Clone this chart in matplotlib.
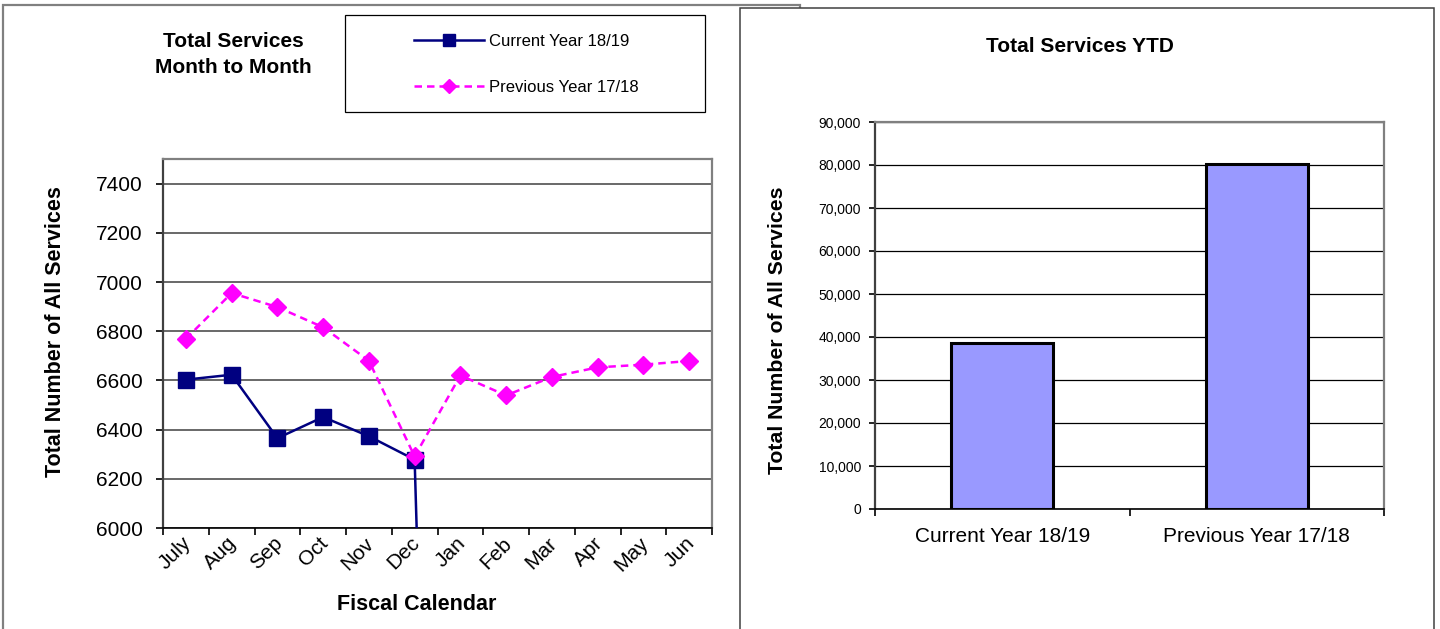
import matplotlib
matplotlib.use("Agg")
import matplotlib.pyplot as plt
from matplotlib.lines import Line2D
from matplotlib.patches import Rectangle
from matplotlib.transforms import ScaledTranslation
from matplotlib.ticker import FuncFormatter

plt.rcParams['font.family'] = ['Liberation Sans', 'DejaVu Sans']

# monthly totals, fiscal year starts in July
months = ['July', 'Aug', 'Sep', 'Oct', 'Nov', 'Dec',
          'Jan', 'Feb', 'Mar', 'Apr', 'May', 'Jun']
current_year = [6603, 6623, 6365, 6451, 6373, 6278, 0, 0, 0, 0, 0, 0]
previous_year = [6769, 6955, 6898, 6816, 6680, 6291,
                 6620, 6539, 6614, 6653, 6664, 6679]

# year to date totals
ytd_labels = ['Current Year 18/19', 'Previous Year 17/18']
ytd_totals = [38700, 80230]

W, H = 1440, 629
fig = plt.figure(figsize=(W / 100, H / 100), dpi=100)


def fx(px):
    return px / W


def fy(py):
    return 1 - py / H


# panel frames
fig.patches.append(Rectangle((fx(3), fy(700)), fx(800) - fx(3), fy(5) - fy(700),
                             transform=fig.transFigure, fill=False,
                             edgecolor='#808080', linewidth=1.6, zorder=0))
fig.patches.append(Rectangle((fx(740), fy(700)), fx(1434) - fx(740), fy(8) - fy(700),
                             transform=fig.transFigure, facecolor='white',
                             edgecolor='#404040', linewidth=1.1, zorder=1))


def style_frame(ax):
    for side in ['top', 'right']:
        ax.spines[side].set_color('#808080')
        ax.spines[side].set_linewidth(1.6)
    ax.spines['left'].set_color('#404040')
    ax.spines['left'].set_linewidth(1.6)
    ax.spines['bottom'].set_color('black')
    ax.spines['bottom'].set_linewidth(1.2)
    ax.set_axisbelow(True)


# ---- month to month line chart ----
ax1 = fig.add_axes([fx(163), fy(528), fx(712) - fx(163), fy(159) - fy(528)])
ax1.set_zorder(2)
x = range(len(months))
ax1.plot(x, current_year, color='#000080', linewidth=1.8, marker='s',
         markersize=11, markeredgecolor='#000080', zorder=3)
ax1.plot(x, previous_year, color='#FF00FF', linewidth=1.8, linestyle=(0, (3, 2)),
         marker='D', markersize=9.5, markeredgecolor='#FF00FF', zorder=4)

ax1.set_xlim(-0.5, len(months) - 0.5)
ax1.set_ylim(6000, 7500)
ax1.set_yticks(range(6000, 7401, 200))
ax1.yaxis.grid(True, color='#404040', linewidth=1.1)
ax1.tick_params(axis='y', labelsize=15, length=5, width=1.2, pad=9.5, direction='out')
ax1.set_xticks([i - 0.5 for i in range(len(months) + 1)])
ax1.set_xticklabels([])
ax1.tick_params(axis='x', which='major', length=5, width=1.2, direction='out')
ax1.set_xticks(list(x), minor=True)
ax1.set_xticklabels(months, minor=True, rotation=45, ha='right', fontsize=15)
ax1.tick_params(axis='x', which='minor', length=0, pad=4)
for lbl in ax1.get_xticklabels(minor=True):
    lbl.set_transform(lbl.get_transform() + ScaledTranslation(0.09, 0, fig.dpi_scale_trans))
style_frame(ax1)

ax1.set_ylabel('Total Number of All Services', fontsize=15.5, fontweight='bold', va='center')
ax1.yaxis.set_label_coords((56 - 163) / 549, (528 - 332) / 369)
ax1.set_xlabel('Fiscal Calendar', fontsize=15.5, fontweight='bold', va='center')
ax1.xaxis.set_label_coords((417 - 163) / 549, (528 - 605) / 369)

fig.text(fx(233), fy(54.5), 'Total Services\nMonth to Month', ha='center', va='center',
         fontsize=15, fontweight='bold', linespacing=1.5)

# legend box
fig.patches.append(Rectangle((fx(345), fy(112)), fx(705) - fx(345), fy(15) - fy(112),
                             transform=fig.transFigure, fill=False,
                             edgecolor='black', linewidth=0.9, zorder=2))
handles = [
    Line2D([], [], color='#000080', linewidth=1.8, marker='s', markersize=8),
    Line2D([], [], color='#FF00FF', linewidth=1.8, linestyle=(0, (3, 2)),
           marker='D', markersize=7.5),
]
fig.legend(handles, ['Current Year 18/19', 'Previous Year 17/18'],
           loc='center left', bbox_to_anchor=(fx(406), fy(64.5)),
           frameon=False, fontsize=12, borderpad=0, handlelength=4.15,
           handletextpad=0.35, labelspacing=1.85)

# ---- year to date bar chart ----
ax2 = fig.add_axes([fx(875), fy(509), fx(1384) - fx(875), fy(122) - fy(509)])
ax2.set_zorder(2)
ax2.bar(range(len(ytd_labels)), ytd_totals, width=0.4, color='#9999FF',
        edgecolor='black', linewidth=2.2, zorder=3)
ax2.set_xlim(-0.5, len(ytd_labels) - 0.5)
ax2.set_ylim(0, 90000)
ax2.set_yticks(range(0, 90001, 10000))
ax2.yaxis.set_major_formatter(FuncFormatter(lambda v, _: f'{int(v):,}'))
ax2.yaxis.grid(True, color='black', linewidth=0.9)
ax2.tick_params(axis='y', labelsize=10, length=4, width=1.2, pad=6, direction='out')
ax2.set_xticks([-0.5, 0.5, 1.5])
ax2.set_xticklabels([])
ax2.tick_params(axis='x', which='major', length=5, width=1.2, direction='out')
ax2.set_xticks(range(len(ytd_labels)), minor=True)
ax2.set_xticklabels(ytd_labels, minor=True, fontsize=15)
ax2.tick_params(axis='x', which='minor', length=0, pad=13)
style_frame(ax2)

ax2.set_ylabel('Total Number of All Services', fontsize=15.3, fontweight='bold', va='center')
ax2.yaxis.set_label_coords((778 - 875) / 509, (509 - 330) / 387)

fig.text(fx(1080), fy(46), 'Total Services YTD', ha='center', va='center',
         fontsize=15, fontweight='bold')

fig.savefig('out.png', dpi=100)
